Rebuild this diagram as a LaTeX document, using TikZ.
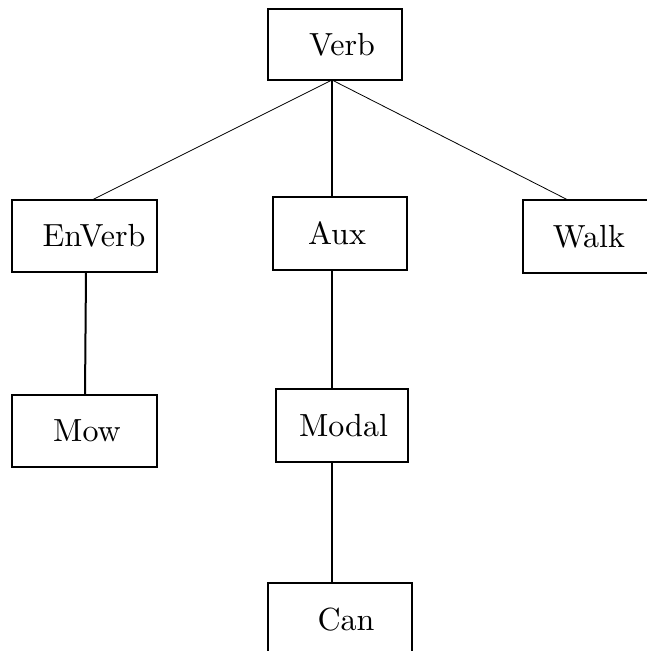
\documentclass[tikz,border=0pt]{standalone}
\usepackage{graphicx}
\newcommand\bigtxt[1]{\scalebox{3.2}{#1}}
\tikzset{
  box/.style={draw, line width=2.8pt, inner sep=0pt, outer sep=0pt},
  vline/.style={line width=2pt},
  dline/.style={line width=0.8pt}
}
\begin{document}
\begin{tikzpicture}[x=1pt,y=-1pt]
\useasboundingbox (0,0) rectangle (646,651);
% boxes (pixel coordinates, y downwards)
\node[box, minimum width=134pt, minimum height=71pt] (verb)  at (335,44.5) {\hspace*{14pt}\bigtxt{Verb}};
\node[box, minimum width=145pt, minimum height=72pt] (enverb) at (84.5,236) {\hspace*{19pt}\bigtxt{EnVerb}};
\node[box, minimum width=134pt, minimum height=73pt] (aux)   at (340,233.5) {\bigtxt{Aux}\hspace*{6pt}};
\node[box, minimum width=132pt, minimum height=73pt] (walk)  at (589,236.5) {\bigtxt{Walk}};
\node[box, minimum width=145pt, minimum height=72pt] (mow)   at (84.5,431) {\hspace*{5pt}\bigtxt{Mow}};
\node[box, minimum width=132pt, minimum height=73pt] (modal) at (342,425.5) {\hspace*{3pt}\bigtxt{Modal}};
\node[box, minimum width=144pt, minimum height=74pt] (can)   at (340,620) {\hspace*{12pt}\bigtxt{Can}};
% connectors
\draw[dline] ([xshift=-3pt]verb.south) -- ([xshift=7.5pt]enverb.north);
\draw[dline] ([xshift=-3pt]verb.south) -- ([xshift=-21pt]walk.north);
\draw[vline] ([xshift=-3pt]verb.south) -- ([xshift=-8pt]aux.north);
\draw[vline] ([xshift=1.5pt]enverb.south) -- ([xshift=0.5pt]mow.north);
\draw[vline] ([xshift=-8pt]aux.south) -- ([xshift=-10pt]modal.north);
\draw[vline] ([xshift=-10pt]modal.south) -- ([xshift=-8pt]can.north);
\end{tikzpicture}
\end{document}
